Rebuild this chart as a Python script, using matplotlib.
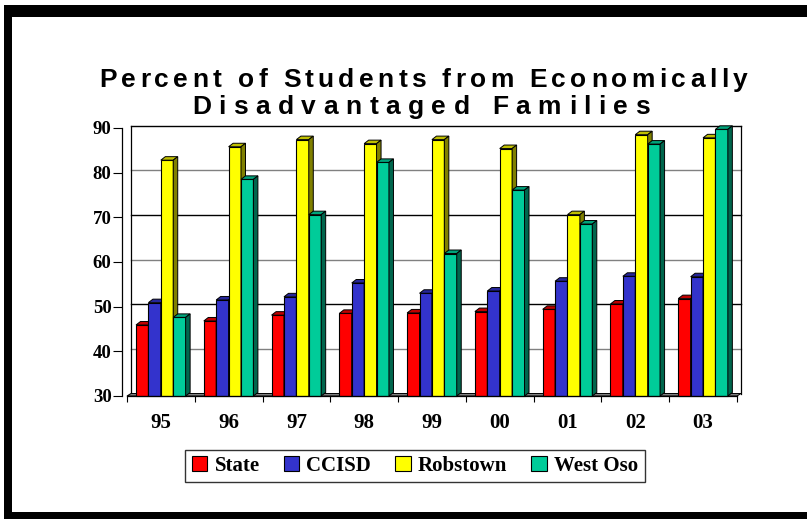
import numpy as np
import matplotlib
matplotlib.use("Agg")
import matplotlib.pyplot as plt
from matplotlib.patches import Polygon, Rectangle, Patch
from matplotlib.font_manager import FontProperties, findfont
from matplotlib.ft2font import FT2Font

years = ["95", "96", "97", "98", "99", "00", "01", "02", "03"]
series_names = ["State", "CCISD", "Robstown", "West Oso"]
state = [45.9, 46.8, 48.1, 48.5, 48.6, 48.9, 49.4, 50.6, 51.8]
ccisd = [50.9, 51.5, 52.2, 55.3, 53.0, 53.5, 55.7, 56.8, 56.7]
robstown = [82.8, 85.8, 87.4, 86.5, 87.4, 85.4, 70.6, 88.5, 87.8]
west_oso = [47.6, 78.5, 70.6, 82.3, 61.9, 76.1, 68.5, 86.4, 89.7]
y_ticks = [30, 40, 50, 60, 70, 80, 90]

front_colors = ["#FF0000", "#3333CC", "#FFFF00", "#00CC99"]
top_colors = ["#C00000", "#262699", "#BFBF00", "#00A37A"]
side_colors = ["#800000", "#1A1A66", "#808000", "#00664D"]

W, H = 807, 519
fig = plt.figure(figsize=(W / 100, H / 100), dpi=100)
ax = fig.add_axes([127 / W, 1 - 396 / H, 610 / W, 268 / H])
ax.set_xlim(-0.5, 8.5)
ax.set_ylim(30, 90)

# pixel -> data unit helpers for the fake 3d depth
px_x = 610 / 9
px_y = 268 / 60
ddx, ddy = 4.5 / px_x, 3.5 / px_y   # bar depth
bx, by = 4 / px_x, 2.5 / px_y       # back wall offset

# back wall gridlines
grid_cols = {40: "#808080", 50: "#000000", 60: "#808080",
             70: "#000000", 80: "#808080", 90: "#000000"}
for v in y_ticks[1:]:
    ax.plot([-0.5 + bx, 8.5 + bx], [v + by, v + by], color=grid_cols[v],
            lw=1, clip_on=False, zorder=1)
for xe in [-0.5 + bx, 8.5 + bx]:
    ax.plot([xe, xe], [30 + by, 90 + by], color="#000000", lw=0.9,
            clip_on=False, zorder=1)

# floor
floor = Polygon([(-0.5, 30), (8.5, 30), (8.5 + bx, 30 + by), (-0.5 + bx, 30 + by)],
                closed=True, facecolor="#808080", edgecolor="black", lw=0.7,
                clip_on=False, zorder=1.5)
ax.add_patch(floor)

bw = 0.183
start = -0.367
data = [state, ccisd, robstown, west_oso]
for i, vals in enumerate(data):
    xs = np.arange(len(years)) + start + i * bw + bw / 2
    vals = np.array(vals)
    ax.bar(xs, vals - 30, bw, bottom=30, color=front_colors[i],
           edgecolor="black", lw=0.8, zorder=2, clip_on=False)
    for x, h in zip(xs, vals):
        l, r = x - bw / 2, x + bw / 2
        top = Polygon([(l, h), (r, h), (r + ddx, h + ddy), (l + ddx, h + ddy)],
                      closed=True, facecolor=top_colors[i], edgecolor="black",
                      lw=0.7, zorder=2, clip_on=False)
        side = Polygon([(r, 30), (r, h), (r + ddx, h + ddy), (r + ddx, 30 + ddy)],
                       closed=True, facecolor=side_colors[i], edgecolor="black",
                       lw=0.7, zorder=2, clip_on=False)
        ax.add_patch(top)
        ax.add_patch(side)

for s in ["top", "right"]:
    ax.spines[s].set_visible(False)
ax.spines["left"].set_position(("outward", 3.6))
ax.spines["left"].set_linewidth(0.9)
ax.spines["bottom"].set_linewidth(0.9)
ax.spines["bottom"].set_zorder(3)

serif_y = FontProperties(family="Liberation Serif", weight="bold", size=13.5)
serif_x = FontProperties(family="Liberation Serif", weight="bold", size=15)

ax.set_yticks(y_ticks)
ax.set_yticklabels([str(v) for v in y_ticks], fontproperties=serif_y)
ax.tick_params(axis="y", direction="out", length=6.5, width=0.8, pad=1)

ax.set_xticks(np.arange(len(years)))
ax.set_xticklabels(years, fontproperties=serif_x)
ax.set_xticks(np.arange(len(years) + 1) - 0.5, minor=True)
ax.tick_params(axis="x", which="major", length=0, pad=12)
ax.tick_params(axis="x", which="minor", direction="out", length=4.3, width=0.8)
ax.patch.set_alpha(0)

# title with letter spacing
title_size = 19
title_fp = FontProperties(family="Liberation Sans", weight="bold", size=title_size)
ft = FT2Font(findfont(title_fp))
ft.set_size(title_size, 100)


def advances(s):
    return [ft.load_char(ord(c)).linearHoriAdvance / 65536 for c in s]


def spaced(s, xc, base, width):
    adv = advances(s)
    extra = (width - sum(adv)) / (len(s) - 1)
    x = xc - width / 2
    for c, a in zip(s, adv):
        fig.text(x / W, 1 - base / H, c, ha="left", va="baseline",
                 fontproperties=title_fp)
        x += a + extra


spaced("Percent of Students from Economically", 423, 87, 648)
spaced("Disadvantaged Families", 421, 114, 458)

# legend
handles = [Patch(facecolor=c, edgecolor="black", lw=0.8) for c in front_colors]
leg = fig.legend(handles, series_names, loc="center",
                 bbox_to_anchor=(415 / W, 1 - 466 / H), ncol=4,
                 prop=serif_x, frameon=True, fancybox=False,
                 handlelength=0.75, handleheight=0.75, handletextpad=0.35,
                 columnspacing=1.15, borderpad=0.3, borderaxespad=0)
leg.get_frame().set_edgecolor("black")
leg.get_frame().set_linewidth(1)

# thick black frame (left, top, bottom)
for (x0, y0, w, h) in [(4, 5, W - 4, 12), (4, 5, 8, H - 5), (4, 512, W - 4, 7)]:
    fig.add_artist(Rectangle((x0 / W, 1 - (y0 + h) / H), w / W, h / H,
                             transform=fig.transFigure, color="black", lw=0))

fig.savefig("out.png", dpi=100)
